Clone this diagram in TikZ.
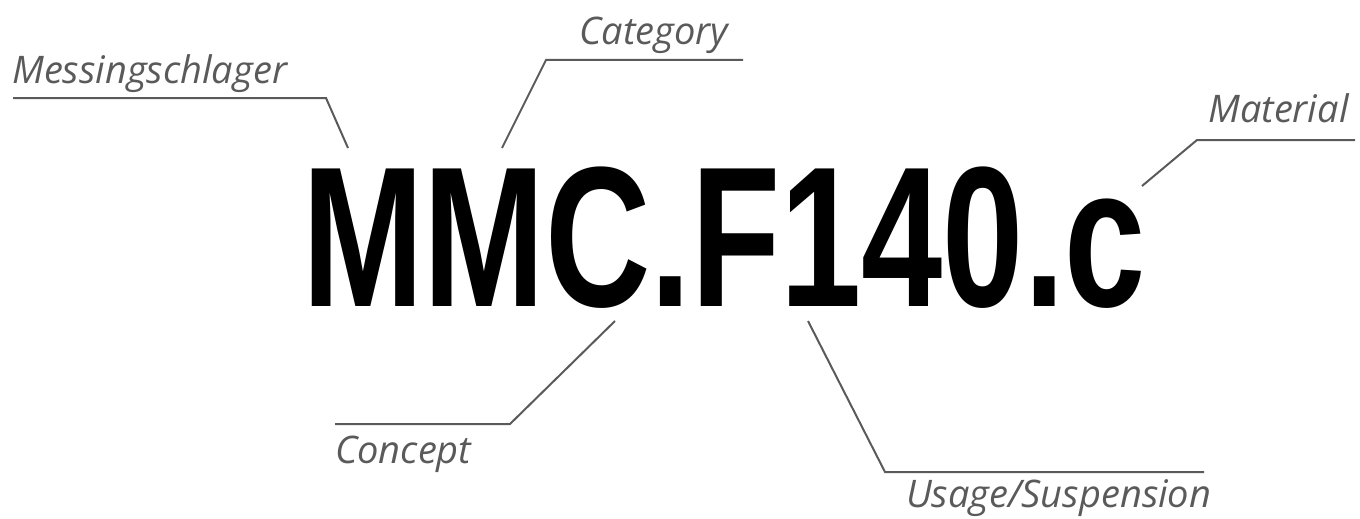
\documentclass[tikz,border=0pt]{standalone}
\usepackage{fontspec}
\setmainfont{Open Sans}
\newfontfamily\codefont{Liberation Sans}
\usetikzlibrary{positioning}
\definecolor{labelgray}{HTML}{5A5A5A}

\begin{document}
\begin{tikzpicture}[
    x=1pt, y=-1pt,
    code/.style={
        font=\codefont\bfseries\fontsize{200}{200}\selectfont,
        inner sep=0pt,
        anchor=base west
    },
    tag/.style={
        font=\itshape\fontsize{38}{38}\selectfont,
        text=labelgray,
        inner sep=0pt,
        anchor=base west
    },
    leader/.style={draw=labelgray, line width=2pt}
]
\useasboundingbox (0,0) rectangle (1360,519);

% Product code
\node[code] (code) at (302,306) {\scalebox{0.73}[1]{MMC.F140.c}};

% Labels
\node[tag] (messing) at (12,83) {Messingschlager};
\node[tag] (category) at (579,45) {Category};
\node[tag] (material) at (1208,122) {Material};
\node[tag] (concept) at (335,463) {Concept};
\node[tag] (usage) at (906,507) {Usage/Suspension};

% Leader points
\coordinate (messingTip) at (348,148);
\coordinate (messingKnee) at (326,98);
\coordinate (messingEnd) at (13,98);
\coordinate (categoryTip) at (502,148);
\coordinate (categoryKnee) at (546,60);
\coordinate (categoryEnd) at (743,60);
\coordinate (materialTip) at (1142,186);
\coordinate (materialKnee) at (1197,140);
\coordinate (materialEnd) at (1355,140);
\coordinate (conceptTip) at (615,321);
\coordinate (conceptKnee) at (510,424);
\coordinate (conceptEnd) at (335,424);
\coordinate (usageTip) at (808,321);
\coordinate (usageKnee) at (885,472);
\coordinate (usageEnd) at (1204,472);

% Leaders
\draw[leader] (messingTip) -- (messingKnee) -- (messingEnd);
\draw[leader] (categoryTip) -- (categoryKnee) -- (categoryEnd);
\draw[leader] (materialTip) -- (materialKnee) -- (materialEnd);
\draw[leader] (conceptTip) -- (conceptKnee) -- (conceptEnd);
\draw[leader] (usageTip) -- (usageKnee) -- (usageEnd);

\end{tikzpicture}
\end{document}
